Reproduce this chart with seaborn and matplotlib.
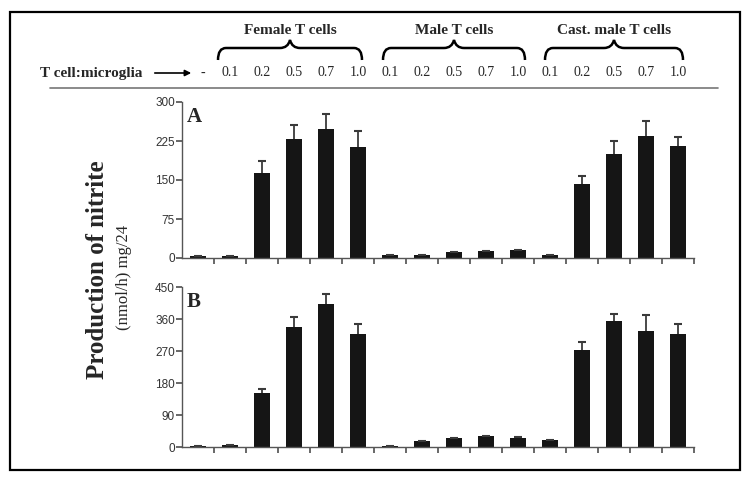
import numpy as np
import pandas as pd
import seaborn as sns
import matplotlib.pyplot as plt
from matplotlib.path import Path
from matplotlib.patches import PathPatch, Rectangle

# ---- data ----
groups = ["Female T cells", "Male T cells", "Cast. male T cells"]
ratios = ["0.1", "0.2", "0.5", "0.7", "1.0"]
conditions = ["-"] + [f"{g} {r}" for g in groups for r in ratios]
tick_text = ["-"] + ratios * 3

nitrite_a = [3, 3, 164, 228, 248, 213, 5, 6, 11, 13, 15, 5, 142, 200, 235, 215]
err_top_a = [3, 3, 187, 256, 276, 244, 5, 6, 11, 13, 15, 5, 158, 225, 263, 233]
nitrite_b = [2, 5, 151, 337, 403, 318, 2, 18, 24, 30, 26, 19, 273, 355, 325, 318]
err_top_b = [2, 5, 162, 367, 430, 347, 2, 18, 26, 32, 29, 19, 294, 375, 370, 347]

sns.set_theme(style="white")
plt.rcParams["font.family"] = ["Liberation Sans", "DejaVu Sans"]

W, H = 750, 483
fig = plt.figure(figsize=(W / 100, H / 100), dpi=100)

# overlay axes in pixel coords for the header decorations
deco = fig.add_axes([0, 0, 1, 1])
deco.set_xlim(0, W)
deco.set_ylim(H, 0)
deco.axis("off")
deco.add_patch(Rectangle((10, 12), 730, 458, fill=False, lw=1.6, ec="black"))
deco.plot([50, 718], [88, 88], color="#777777", lw=1.2)

x_left, x_right = 182, 694


def ax_rect(top, bottom):
    return [x_left / W, 1 - bottom / H, (x_right - x_left) / W, (bottom - top) / H]


def draw_panel(ax, vals, tops, ymax, step, letter):
    df = pd.DataFrame({"condition": conditions, "nitrite": vals})
    sns.barplot(data=df, x="condition", y="nitrite", order=conditions,
                color="#151515", width=0.53, saturation=1, linewidth=0, ax=ax)
    pos = np.arange(len(conditions))
    # upper-only error bars
    ax.vlines(pos, vals, tops, color="#3a3a3a", lw=1.3, zorder=1)
    ax.hlines(tops, pos - 0.13, pos + 0.13, color="#3a3a3a", lw=1.5, zorder=1)
    ax.set_xlim(-0.5, len(conditions) - 0.5)
    ax.set_ylim(0, ymax)
    ax.set_yticks(np.arange(0, ymax + 1, step))
    ax.set_xticks(pos + 0.5)
    ax.set_xticklabels([])
    ax.set_xlabel("")
    ax.set_ylabel("")
    for s in ["top", "right"]:
        ax.spines[s].set_visible(False)
    for s in ["left", "bottom"]:
        ax.spines[s].set_color("#555555")
        ax.spines[s].set_linewidth(1.0)
    ax.tick_params(axis="x", direction="out", length=4, color="#555555", bottom=True)
    ax.tick_params(axis="y", direction="out", length=4, color="#555555", left=True,
                   labelsize=8.5, labelcolor="#333333", pad=1)
    ax.text(0.01, 0.97, letter, transform=ax.transAxes, ha="left", va="top",
            fontsize=15, fontweight="bold", family=["Liberation Serif"])


ax_a = fig.add_axes(ax_rect(102, 258))
draw_panel(ax_a, nitrite_a, err_top_a, 300, 75, "A")
ax_b = fig.add_axes(ax_rect(287, 447))
draw_panel(ax_b, nitrite_b, err_top_b, 450, 90, "B")

# header: ratio labels aligned with bar centres
serif = ["Liberation Serif", "DejaVu Serif"]
for i, t in enumerate(tick_text):
    xp = x_left + (i + 0.5) * (x_right - x_left) / len(conditions)
    if i == 0:
        xp += 5
    deco.text(xp, 73, t, ha="center", va="center", fontsize=10, family=serif)

deco.text(40, 73, "T cell:microglia", ha="left", va="center", fontsize=11,
          fontweight="bold", family=serif)
deco.annotate("", xy=(194, 73), xytext=(152, 73),
              arrowprops=dict(arrowstyle="-|>", lw=1.2, color="black",
                              mutation_scale=9))


def brace(x0, x1, y_end, y_tip):
    xm = (x0 + x1) / 2
    y_mid = y_end - 0.6 * (y_end - y_tip)
    verts = [(x0, y_end), (x0, y_mid), (x0 + 8, y_mid),
             (xm - 10, y_mid), (xm - 2, y_mid), (xm, y_tip),
             (xm + 2, y_mid), (xm + 10, y_mid),
             (x1 - 8, y_mid), (x1, y_mid), (x1, y_end)]
    codes = [Path.MOVETO, Path.CURVE3, Path.CURVE3,
             Path.LINETO, Path.CURVE3, Path.CURVE3,
             Path.CURVE3, Path.CURVE3,
             Path.LINETO, Path.CURVE3, Path.CURVE3]
    deco.add_patch(PathPatch(Path(verts, codes), fill=False, lw=1.8, ec="black"))


spans = [(218, 362), (383, 525), (545, 683)]
for g, (x0, x1) in zip(groups, spans):
    brace(x0, x1, 60, 40)
    deco.text((x0 + x1) / 2, 31, g, ha="center", va="center", fontsize=11,
              fontweight="bold", family=serif)

# y axis titles
deco.text(98, 270, "Production of nitrite", rotation=90, ha="center", va="center",
          fontsize=18, fontweight="bold", family=serif)
deco.text(124, 277, "(nmol/h) mg/24", rotation=90, ha="center", va="center",
          fontsize=12, family=serif)

fig.savefig("out.png", dpi=100)
